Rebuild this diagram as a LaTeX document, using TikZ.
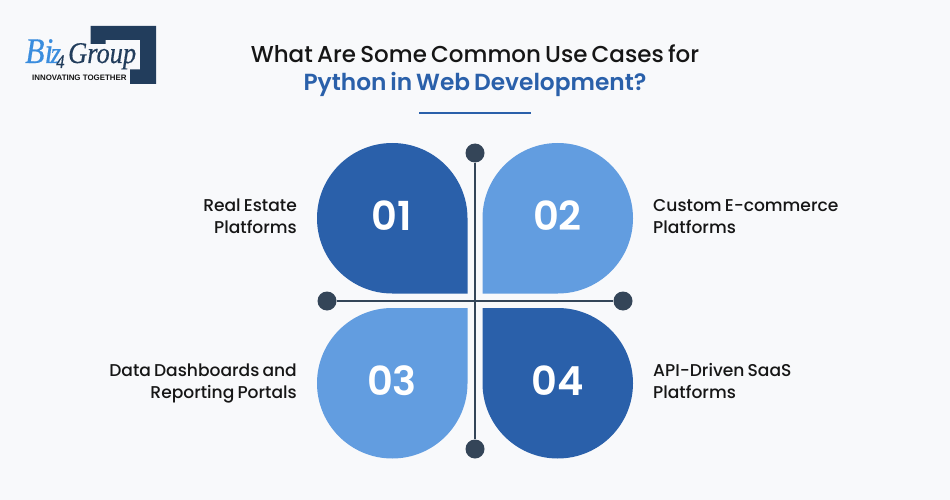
\documentclass[tikz,border=0pt]{standalone}
\usepackage{fontspec}
\setmainfont{Poppins}
\newfontfamily\medfont[WordSpace=0.5]{Poppins Medium}
\newfontfamily\titlefont[WordSpace=0.7]{Poppins Medium}
\newfontfamily\semifont[WordSpace=0.7]{Poppins SemiBold}
\newfontfamily\logoserif[FakeStretch=0.88,FakeBold=0.4]{Liberation Serif}
\newfontfamily\logosans{Liberation Sans}
\definecolor{pagebg}{HTML}{F8F9FB}
\definecolor{deepblue}{HTML}{2A60AA}
\definecolor{softblue}{HTML}{629DE0}
\definecolor{slate}{HTML}{344558}
\definecolor{navy}{HTML}{223D5C}
\definecolor{logoblue}{HTML}{3A8DDE}
\definecolor{ink}{HTML}{161616}
\tikzset{
  petal/.style={draw=none},
  dotend/.style={circle,fill=slate,draw=none,minimum size=19pt,inner sep=0pt},
  num/.style={text=white,font=\semifont\fontsize{40}{40}\selectfont,inner sep=0pt,anchor=base},
  lab/.style={text=ink,font=\medfont\fontsize{17.1}{22}\selectfont,inner sep=0pt,align=left,anchor=base west},
  labr/.style={text=ink,font=\medfont\fontsize{17.1}{22}\selectfont,inner sep=0pt,align=right,anchor=base east},
  ttl/.style={inner sep=0pt,anchor=base}
}
\begin{document}
\begin{tikzpicture}[x=1pt,y=-1pt]
\useasboundingbox (0,0) rectangle (950,500);
\fill[pagebg] (0,0) rectangle (950,500);
% logo
\fill[navy] (90.7,26) -- (156,26) -- (156,84) -- (130,84) -- (130,69.5) -- (140,69.5) -- (140,40) -- (105.5,40) -- (105.5,44) -- (90.7,44) -- cycle;
\node[inner sep=0pt,anchor=base west,text=logoblue,font=\logoserif\itshape\fontsize{36}{36}\selectfont] (lbiz) at (25,63) {Bi};
\node[inner sep=0pt,anchor=base west,text=logoblue,font=\logoserif\itshape\fontsize{30}{30}\selectfont] (lz) at (50.5,63) {z};
\node[inner sep=0pt,anchor=base west,text=navy,font=\logoserif\itshape\fontsize{19}{19}\selectfont] (lfour) at (56,68) {4};
\node[inner sep=0pt,anchor=base west,text=navy,font=\logoserif\itshape\fontsize{30}{30}\selectfont] (lgroup) at (68,63) {Group};
\node[inner sep=0pt,anchor=base west,text=ink,font=\logosans\bfseries\fontsize{7.9}{7.9}\selectfont] (ltag) at (32,80.7) {INNOVATING TOGETHER};
% title
\node[ttl,text=ink,font=\titlefont\fontsize{23}{23}\selectfont] (t1) at (475,63) {What Are Some Common Use Cases for};
\node[ttl,text=deepblue,font=\semifont\fontsize{23.3}{23}\selectfont] (t2) at (475,91) {Python in Web Development?};
\coordinate (ula) at (419,113);
\coordinate (ulb) at (531,113);
\draw[deepblue,line width=1.5pt] (ula) -- (ulb);
% petals
\fill[deepblue,petal] (467.5,293.5) -- (392.25,293.5) arc[start angle=90,end angle=360,radius=75.25] -- cycle;
\fill[softblue,petal] (482.5,293.5) -- (482.5,218.25) arc[start angle=180,end angle=450,radius=75.25] -- cycle;
\fill[softblue,petal] (467.5,308) -- (467.5,383.25) arc[start angle=0,end angle=270,radius=75.25] -- cycle;
\fill[deepblue,petal] (482.5,308) -- (557.75,308) arc[start angle=-90,end angle=180,radius=75.25] -- cycle;
% cross
\node[dotend] (dn) at (475,153) {};
\node[dotend] (ds) at (475,449) {};
\node[dotend] (dw) at (327,301) {};
\node[dotend] (de) at (623,301) {};
\draw[slate,line width=2pt] (dn) -- (ds);
\draw[slate,line width=2pt] (dw) -- (de);
% numbers
\node[num] (n1) at (392,230) {01};
\node[num] (n2) at (557.5,230) {02};
\node[num] (n3) at (392,395) {03};
\node[num] (n4) at (557.5,395) {04};
% labels
\node[labr] (a1) at (297,211.5) {Real Estate};
\node[labr] (a1b) at (297,233.5) {Platforms};
\node[lab] (a2) at (653,211.5) {Custom E-commerce};
\node[lab] (a2b) at (653,233.5) {Platforms};
\node[labr] (a3) at (297,376.5) {Data Dashboards and};
\node[labr] (a3b) at (297,398.5) {Reporting Portals};
\node[lab] (a4) at (653,376.5) {API-Driven SaaS};
\node[lab] (a4b) at (653,398.5) {Platforms};
\end{tikzpicture}
\end{document}
